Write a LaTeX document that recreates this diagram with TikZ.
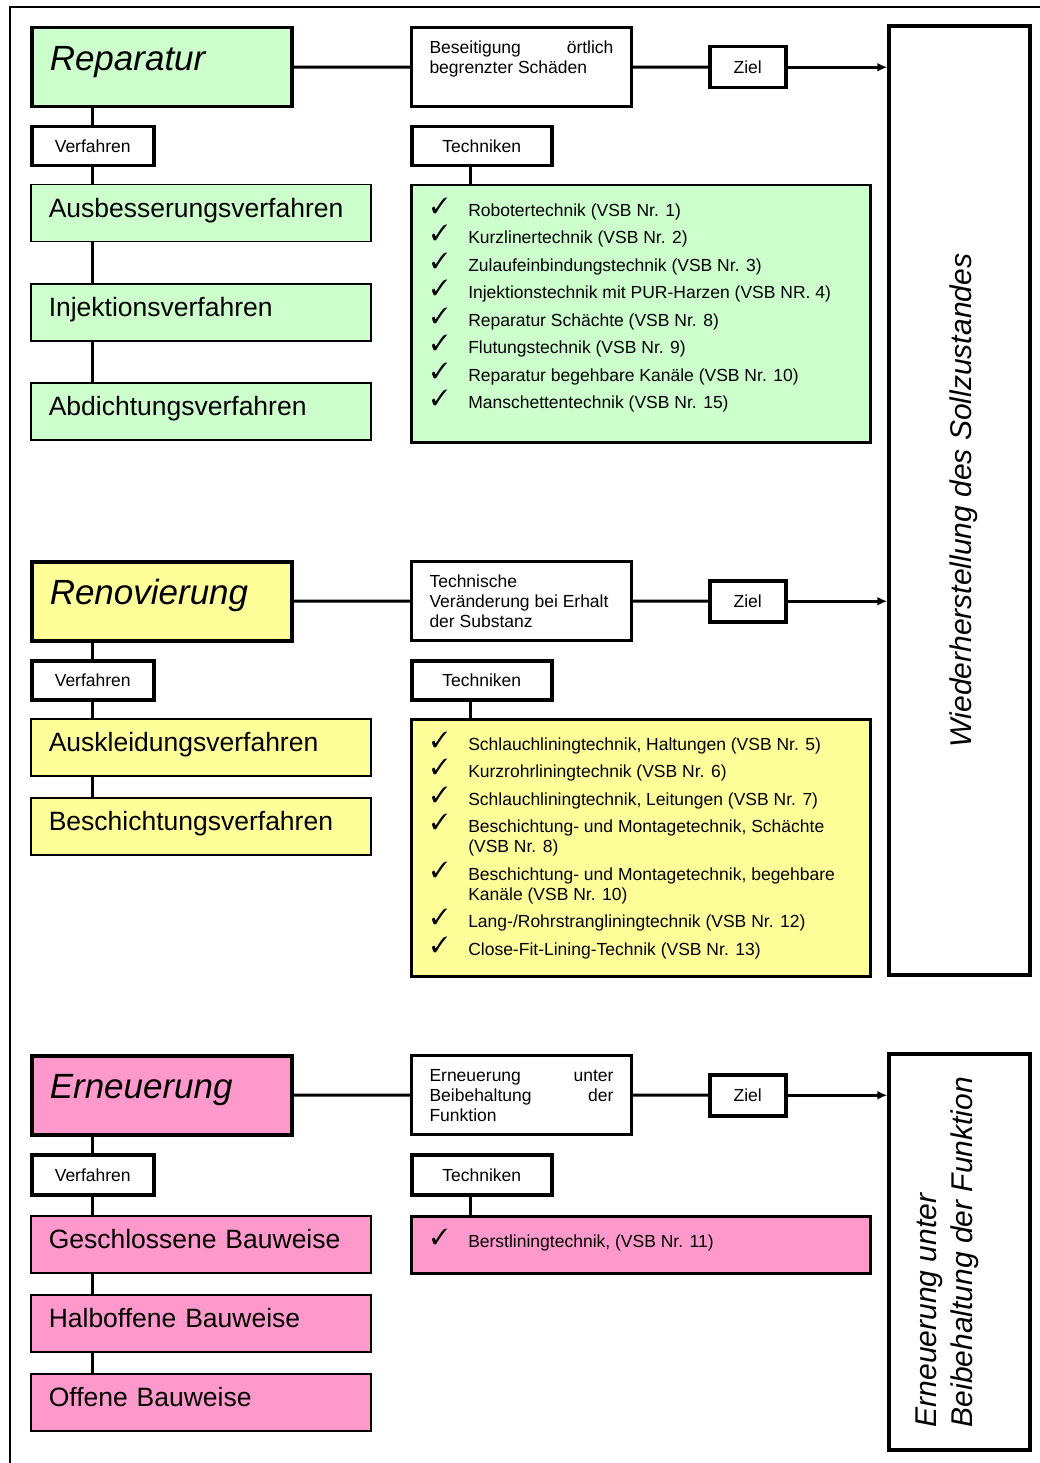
\documentclass[tikz,border=0pt]{standalone}
\usepackage{fontspec}
\setmainfont{Liberation Sans}
\usepackage{pifont}
\usetikzlibrary{arrows.meta}

\definecolor{repgreen}{HTML}{CCFFCC}
\definecolor{renyellow}{HTML}{FFFF99}
\definecolor{erpink}{HTML}{FF99CC}

% text of the goal boxes, set at the top
\newcommand{\goaltext}[1]{\parbox[c][52pt][t]{184pt}{\fontsize{17.5}{20}\selectfont #1}}
% list of techniques
\newcommand{\techlist}[2]{\parbox[c][#1][t]{423pt}{\fontsize{17.5}{20}\selectfont\raggedright\parskip=7.5pt\vspace*{11pt}#2}}
\newcommand{\chk}[1]{\par\hangindent=39pt\hangafter=1\noindent\makebox[39pt][l]{\hspace{2pt}\raisebox{3pt}[0pt][0pt]{\fontsize{22}{22}\selectfont\ding{51}}}#1}

\begin{document}
\begin{tikzpicture}[x=1pt,y=-1pt,>={Latex[length=10pt,width=9pt]},
  head/.style={draw,line width=3.5pt,anchor=north west,text width=224pt,inner xsep=18pt,minimum height=79pt,text height=25pt,text depth=19pt,font=\fontsize{35}{40}\selectfont\itshape},
  tagbox/.style={draw,line width=3.5pt,anchor=north west,inner sep=0pt,minimum height=39pt,text height=13pt,text depth=0pt,font=\fontsize{17.5}{20}\selectfont},
  methbox/.style={draw,line width=1.5pt,anchor=north west,text width=304pt,inner xsep=18pt,minimum height=57pt,text height=20pt,text depth=11pt,font=\fontsize{26.5}{30}\selectfont},
  goalbox/.style={draw,line width=3pt,anchor=north west,inner xsep=18pt,inner ysep=13.5pt},
  techbox/.style={draw,line width=2.5pt,anchor=north west,inner xsep=18pt,inner ysep=0pt},
  bigbox/.style={draw,line width=3.5pt,rotate=90,minimum height=141pt,inner sep=0pt,align=left,font=\fontsize{30}{36}\selectfont\itshape},
  conn/.style={line width=3pt}]
\useasboundingbox (0,0) rectangle (1040,1463);
\draw[line width=2pt] (10,1463) -- (10,7) -- (1040,7);

% Reparatur
\node[head,fill=repgreen] (rep) at (30,26) {Reparatur};
\node[goalbox] (goal1) at (410,26) {\goaltext{Beseitigung \hfill örtlich\\begrenzter Schäden}};
\node[tagbox,minimum width=76pt,minimum height=41pt] (ziel1) at (708,45) {Ziel};
\node[tagbox,minimum width=122pt] (verf1) at (30,125) {Verfahren};
\node[tagbox,minimum width=140pt] (tech1) at (410,125) {Techniken};
\node[methbox,fill=repgreen] (m11) at (30,184) {Ausbesserungsverfahren};
\node[methbox,fill=repgreen] (m12) at (30,283) {Injektionsverfahren};
\node[methbox,fill=repgreen] (m13) at (30,382) {Abdichtungsverfahren};
\node[techbox,fill=repgreen] (list1) at (410,184) {\techlist{257pt}{%
  \chk{Robotertechnik (VSB Nr. 1)}
  \chk{Kurzlinertechnik (VSB Nr. 2)}
  \chk{Zulaufeinbindungstechnik (VSB Nr. 3)}
  \chk{Injektionstechnik mit PUR-Harzen (VSB NR. 4)}
  \chk{Reparatur Schächte (VSB Nr. 8)}
  \chk{Flutungstechnik (VSB Nr. 9)}
  \chk{Reparatur begehbare Kanäle (VSB Nr. 10)}
  \chk{Manschettentechnik (VSB Nr. 15)}}};

% Renovierung
\node[head,fill=renyellow] (ren) at (30,560) {Renovierung};
\node[goalbox] (goal2) at (410,560) {\goaltext{Technische\\Veränderung bei Erhalt\\der Substanz}};
\node[tagbox,minimum width=76pt,minimum height=41pt] (ziel2) at (708,579) {Ziel};
\node[tagbox,minimum width=122pt] (verf2) at (30,659) {Verfahren};
\node[tagbox,minimum width=140pt] (tech2) at (410,659) {Techniken};
\node[methbox,fill=renyellow] (m21) at (30,718) {Auskleidungsverfahren};
\node[methbox,fill=renyellow] (m22) at (30,797) {Beschichtungsverfahren};
\node[techbox,fill=renyellow] (list2) at (410,718) {\techlist{257pt}{%
  \chk{Schlauchliningtechnik, Haltungen (VSB Nr. 5)}
  \chk{Kurzrohrliningtechnik (VSB Nr. 6)}
  \chk{Schlauchliningtechnik, Leitungen (VSB Nr. 7)}
  \chk{Beschichtung- und Montagetechnik, Schächte\newline(VSB Nr. 8)}
  \chk{Beschichtung- und Montagetechnik, begehbare\newline Kanäle (VSB Nr. 10)}
  \chk{Lang-/Rohrstrangliningtechnik (VSB Nr. 12)}
  \chk{Close-Fit-Lining-Technik (VSB Nr. 13)}}};

% Erneuerung
\node[head,fill=erpink] (ern) at (30,1054) {Erneuerung};
\node[goalbox] (goal3) at (410,1054) {\goaltext{Erneuerung \hfill unter\\Beibehaltung \hfill der\\Funktion}};
\node[tagbox,minimum width=76pt,minimum height=41pt] (ziel3) at (708,1073) {Ziel};
\node[tagbox,minimum width=122pt,minimum height=40pt] (verf3) at (30,1153) {Verfahren};
\node[tagbox,minimum width=140pt,minimum height=40pt] (tech3) at (410,1153) {Techniken};
\node[methbox,fill=erpink] (m31) at (30,1215) {Geschlossene Bauweise};
\node[methbox,fill=erpink] (m32) at (30,1294) {Halboffene Bauweise};
\node[methbox,fill=erpink] (m33) at (30,1373) {Offene Bauweise};
\node[techbox,fill=erpink] (list3) at (410,1215) {\techlist{57pt}{%
  \chk{Berstliningtechnik, (VSB Nr. 11)}}};

% goals
\node[bigbox,minimum width=949pt,text height=30pt] (big1) at (959.5,500.5) {Wiederherstellung des Sollzustandes};
\node[bigbox,minimum width=396pt,text depth=30pt] (big2) at (959.5,1252) {Erneuerung unter\\Beibehaltung der Funktion};

% connectors
\draw[conn] (rep) -- (goal1);
\draw[conn] (goal1) -- (ziel1);
\draw[conn,->] (ziel1) -- (ziel1 -| big1.north);
\draw[conn] (verf1 |- rep.south) -- (verf1);
\draw[conn] (verf1) -- (verf1 |- m11.north);
\draw[conn] (verf1 |- m11.south) -- (verf1 |- m12.north);
\draw[conn] (verf1 |- m12.south) -- (verf1 |- m13.north);
\draw[conn] ([xshift=60pt]tech1.south west) -- ([xshift=60pt]list1.north west);

\draw[conn] (ren) -- (goal2);
\draw[conn] (goal2) -- (ziel2);
\draw[conn,->] (ziel2) -- (ziel2 -| big1.north);
\draw[conn] (verf2 |- ren.south) -- (verf2);
\draw[conn] (verf2) -- (verf2 |- m21.north);
\draw[conn] (verf2 |- m21.south) -- (verf2 |- m22.north);
\draw[conn] ([xshift=60pt]tech2.south west) -- ([xshift=60pt]list2.north west);

\draw[conn] (ern) -- (goal3);
\draw[conn] (goal3) -- (ziel3);
\draw[conn,->] (ziel3) -- (ziel3 -| big2.north);
\draw[conn] (verf3 |- ern.south) -- (verf3);
\draw[conn] (verf3) -- (verf3 |- m31.north);
\draw[conn] (verf3 |- m31.south) -- (verf3 |- m32.north);
\draw[conn] (verf3 |- m32.south) -- (verf3 |- m33.north);
\draw[conn] ([xshift=60pt]tech3.south west) -- ([xshift=60pt]list3.north west);
\end{tikzpicture}
\end{document}
